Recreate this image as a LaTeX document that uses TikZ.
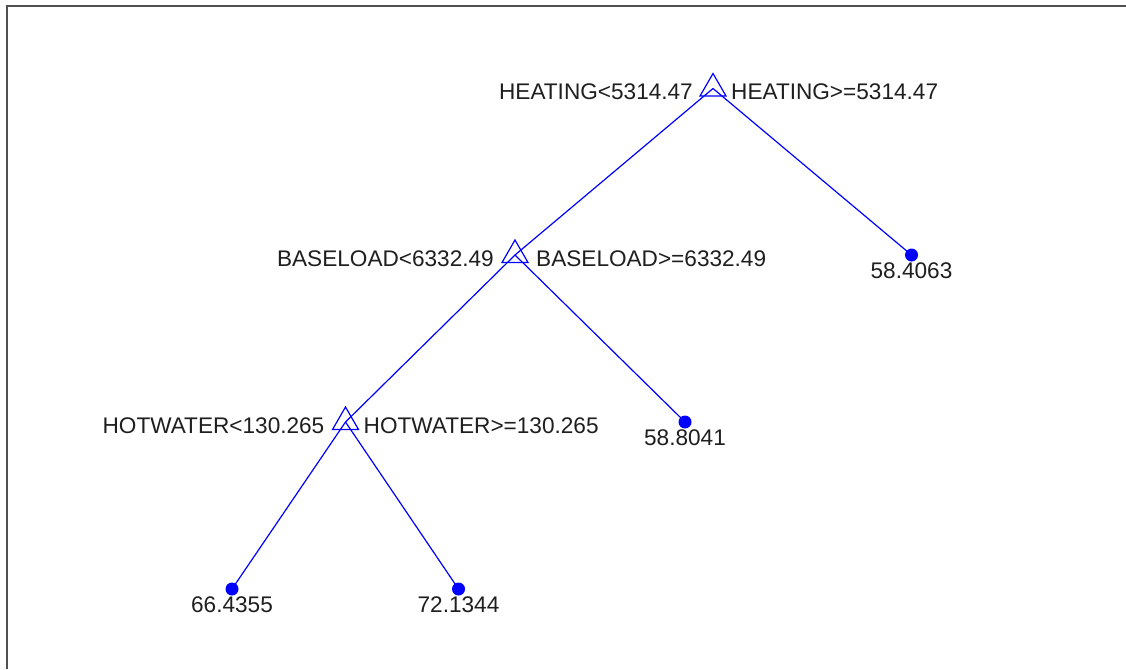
\documentclass[tikz,border=0pt]{standalone}
\usepackage{fontspec}
\setmainfont{Liberation Sans}
\usetikzlibrary{shapes.geometric,calc}
\definecolor{framegray}{RGB}{80,80,80}
\definecolor{treeblue}{RGB}{0,0,255}
\tikzset{
  split/.style={regular polygon, regular polygon sides=3, draw=treeblue, line width=1.2pt,
    minimum size=30pt, inner sep=0pt, outer sep=0pt},
  leaf/.style={circle, fill=treeblue, minimum size=13pt, inner sep=0pt, outer sep=0pt},
  edge/.style={draw=treeblue, line width=1.2pt},
  lbl/.style={font=\fontsize{22.6}{25}\selectfont, text=black!88, inner sep=0pt},
  frame/.style={draw=framegray, line width=1.8pt}
}
\begin{document}
\begin{tikzpicture}[x=1pt,y=-1pt]
\useasboundingbox (0,0) rectangle (1126,669);
\fill[white] (0,0) rectangle (1126,669);
\coordinate (fa) at (7,669);
\coordinate (fb) at (7,6);
\coordinate (fc) at (1126,6);
\draw[frame] (fa) -- (fb) -- (fc);

% nodes
\node[split] (root) at (713,88.5) {};
\node[split] (base) at (515,255) {};
\node[split] (hot) at (345.5,422) {};
\node[leaf] (l1) at (911.5,255) {};
\node[leaf] (l2) at (685,422) {};
\node[leaf] (l3) at (232,589) {};
\node[leaf] (l4) at (458.5,589) {};

% edges
\draw[edge] (root.center) -- (base.center);
\draw[edge] (root.center) -- (l1.center);
\draw[edge] (base.center) -- (hot.center);
\draw[edge] (base.center) -- (l2.center);
\draw[edge] (hot.center) -- (l3.center);
\draw[edge] (hot.center) -- (l4.center);

% split labels
\node[lbl, anchor=east] (rootL) at ($(root.center)+(-20,3.5)$) {HEATING<5314.47};
\node[lbl, anchor=west] (rootR) at ($(root.center)+(18,3.5)$) {HEATING>=5314.47};
\node[lbl, anchor=east] (baseL) at ($(base.center)+(-21,3.5)$) {BASELOAD<6332.49};
\node[lbl, anchor=west] (baseR) at ($(base.center)+(21,3.5)$) {BASELOAD>=6332.49};
\node[lbl, anchor=east] (hotL) at ($(hot.center)+(-21,3.5)$) {HOTWATER<130.265};
\node[lbl, anchor=west] (hotR) at ($(hot.center)+(18,3.5)$) {HOTWATER>=130.265};

% leaf values
\node[lbl] (v1) at ($(l1.center)+(0,16)$) {58.4063};
\node[lbl] (v2) at ($(l2.center)+(0,16)$) {58.8041};
\node[lbl] (v3) at ($(l3.center)+(0,16)$) {66.4355};
\node[lbl] (v4) at ($(l4.center)+(0,16)$) {72.1344};
\end{tikzpicture}
\end{document}
